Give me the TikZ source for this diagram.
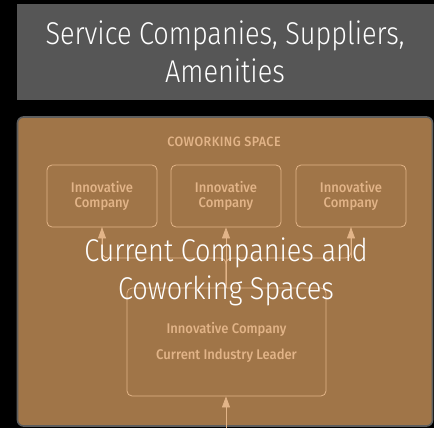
\documentclass[tikz,border=0pt]{standalone}
\usepackage{fontspec}
\setmainfont{Fira Sans}
\newfontfamily\titlefont[FakeStretch=0.86]{Fira Sans Light}
\newfontfamily\smallfont[FakeStretch=0.93]{Fira Sans Medium}
\usetikzlibrary{arrows.meta}
\definecolor{bgblack}{HTML}{000000}
\definecolor{greybox}{HTML}{565656}
\definecolor{brownbox}{HTML}{A07548}
\definecolor{brownedge}{HTML}{5E5E5E}
\definecolor{tan}{HTML}{E2B488}
\tikzset{
  px/.style={x=1pt,y=-1pt},
  compbox/.style={draw=tan, line width=0.8pt, rounded corners=5pt, minimum width=110pt, minimum height=62pt, inner sep=0pt, text=tan, font=\smallfont\fontsize{14}{15}\selectfont, align=center},
  leaderbox/.style={draw=tan, line width=0.8pt, rounded corners=5pt, minimum width=199pt, minimum height=108pt, inner sep=0pt},
  smalltext/.style={text=tan, font=\smallfont\fontsize{14}{15}\selectfont, inner sep=0pt},
  bigtext/.style={text=white, font=\titlefont\fontsize{31.5}{38}\selectfont, align=center, inner sep=0pt},
  conn/.style={draw=tan, line width=0.8pt, rounded corners=6pt},
  arr/.style={draw=tan, line width=0.8pt, -{Triangle[length=11pt,width=8pt]}}
}
\begin{document}
\begin{tikzpicture}[px]
\useasboundingbox (0,0) rectangle (434,428);
\fill[bgblack] (0,0) rectangle (434,428);
% grey top box
\fill[greybox] (17,4) rectangle (440,100);
\node[bigtext] (svc) at (225,52) {Service Companies, Suppliers,\\Amenities};
% brown box
\draw[fill=brownbox, draw=brownedge, line width=1.6pt, rounded corners=6pt] (17.5,117) rectangle (432.5,426);
\node[smalltext, font=\smallfont\fontsize{13.5}{14}\addfontfeature{LetterSpace=3}\selectfont] (cw) at (224,142) {COWORKING SPACE};
\node[compbox] (c1) at (102,196) {Innovative\\Company};
\node[compbox] (c2) at (226,196) {Innovative\\Company};
\node[compbox] (c3) at (351,196) {Innovative\\Company};
\node[leaderbox] (lead) at (226.5,342) {};
\node[smalltext] (l1) at (226.5,329) {Innovative Company};
\node[smalltext] (l2) at (226.5,356) {Current Industry Leader};
\coordinate (junc) at (226,258);
\coordinate (bot) at (226,428);
% connectors
\draw[conn] (lead.north -| c2.south) -- (junc) -| (c1.south);
\draw[conn] (lead.north -| c2.south) -- (junc) -| (c3.south);
\draw[arr] (lead.north -| c2.south) -- (c2.south);
\draw[arr] (c1.south |- junc) -- (c1.south);
\draw[arr] (c3.south |- junc) -- (c3.south);
\draw[arr] (bot) -- (bot |- lead.south);
\node[bigtext] (mid) at (226,272) {Current Companies and\\Coworking Spaces};
\end{tikzpicture}
\end{document}
